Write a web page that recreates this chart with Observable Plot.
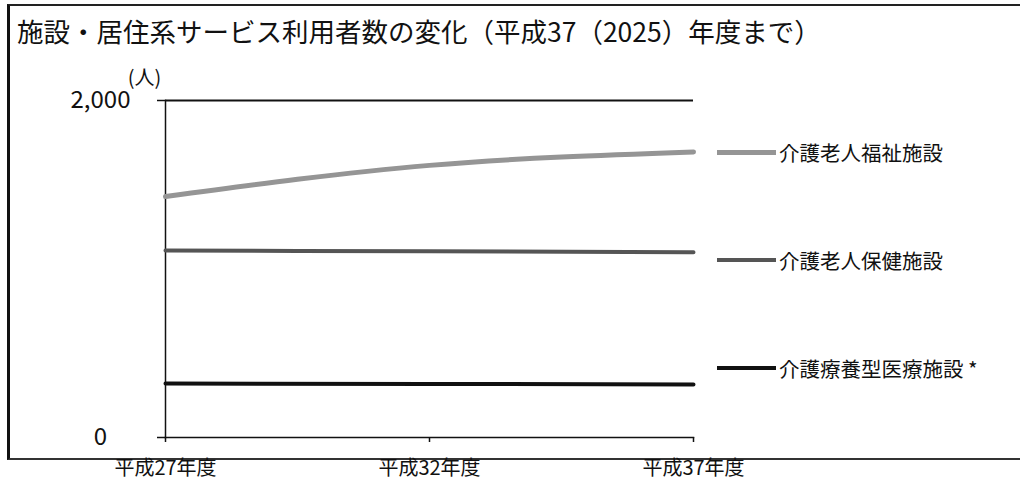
<!DOCTYPE html>
<html>
<head>
<meta charset="utf-8">
<script src="https://cdn.jsdelivr.net/npm/d3@7"></script>
<script src="https://cdn.jsdelivr.net/npm/@observablehq/plot@0.6"></script>
<style>
  html, body { margin: 0; padding: 0; background: #fff; }
  body { font-family: "Noto Sans CJK JP", "Noto Sans", sans-serif; }
  #wrap { position: relative; width: 1020px; height: 490px; overflow: hidden; background: #fff; }
  #frame { position: absolute; left: 7px; top: 4px; width: 1030px; height: 452px;
           border-left: 3px solid #111; border-top: 2px solid #222; border-bottom: 2px solid #333; }
  #title { position: absolute; left: 17px; top: 15px; font-size: 26.5px; line-height: 1.2; color: #111; white-space: nowrap; }
  #chart { position: absolute; left: 0; top: 60px; }
  #legend { position: absolute; left: 717px; top: 138px; }
  .item { display: flex; align-items: center; height: 28px; margin-bottom: 80px; }
  .sw { width: 59px; margin-right: 3px; }
  .lab { font-size: 20.5px; color: #111; white-space: nowrap; }
</style>
</head>
<body>
<div id="wrap">
  <div id="frame"></div>
  <div id="title">施設・居住系サービス利用者数の変化（平成37（2025）年度まで）</div>
  <div id="chart"></div>
  <div id="legend"></div>
</div>
<script>
// Data
const years = [27, 32, 37];                   // 平成27年度, 平成32年度, 平成37年度
const fukushi = [1430, 1615, 1695];           // 介護老人福祉施設
const hoken = [1110, 1105, 1100];             // 介護老人保健施設
const ryoyo = [320, 318, 315];                // 介護療養型医療施設 *
const seriesNames = ["介護老人福祉施設", "介護老人保健施設", "介護療養型医療施設 *"];
const seriesColors = ["#959595", "#555555", "#111111"];
const seriesWidths = [5, 4, 4];
const yTicks = [0, 2000];
const xTickLabel = d => `平成${d}年度`;

const seriesValues = [fukushi, hoken, ryoyo];
const rows = seriesNames.flatMap((name, i) =>
  years.map((yr, j) => ({series: name, year: yr, value: seriesValues[i][j]})));

const font = '"Noto Sans CJK JP", "Noto Sans", sans-serif';

const chart = Plot.plot({
  width: 1020,
  height: 430,
  marginLeft: 165,
  marginRight: 327,
  marginTop: 40,
  marginBottom: 53,
  style: {fontFamily: font, color: "#111", background: "transparent"},
  x: {domain: [27, 37]},
  y: {domain: [0, 2000]},
  marks: [
    Plot.ruleY([2000], {stroke: "#111", strokeWidth: 2}),
    Plot.frame({anchor: "left", stroke: "#111", strokeWidth: 1.5}),
    Plot.frame({anchor: "bottom", stroke: "#111", strokeWidth: 1.5}),
    Plot.axisY({ticks: yTicks, tickFormat: d => d3.format(",")(d), tickSize: 8, tickPadding: 57,
      textAnchor: "middle", fontSize: 24, label: null, stroke: "#111", strokeWidth: 1.5}),
    Plot.axisX({ticks: years, tickFormat: xTickLabel, tickSize: 5, tickPadding: 18,
      fontSize: 20, label: null, stroke: "#111", strokeWidth: 1.5}),
    Plot.text(["(人)"], {frameAnchor: "top-left", dx: -21, dy: -30, fontSize: 20, textAnchor: "middle"}),
    ...seriesNames.map((name, i) =>
      Plot.line(rows.filter(r => r.series === name), {
        x: "year", y: "value", stroke: seriesColors[i], strokeWidth: seriesWidths[i],
        curve: "monotone-x"
      }))
  ]
});
document.getElementById("chart").appendChild(chart);

const legend = document.getElementById("legend");
seriesNames.forEach((name, i) => {
  const item = document.createElement("div");
  item.className = "item";
  const sw = document.createElement("div");
  sw.className = "sw";
  sw.style.height = seriesWidths[i] + "px";
  sw.style.background = seriesColors[i];
  const lab = document.createElement("span");
  lab.className = "lab";
  lab.textContent = name;
  item.appendChild(sw);
  item.appendChild(lab);
  legend.appendChild(item);
});
</script>
</body>
</html>
